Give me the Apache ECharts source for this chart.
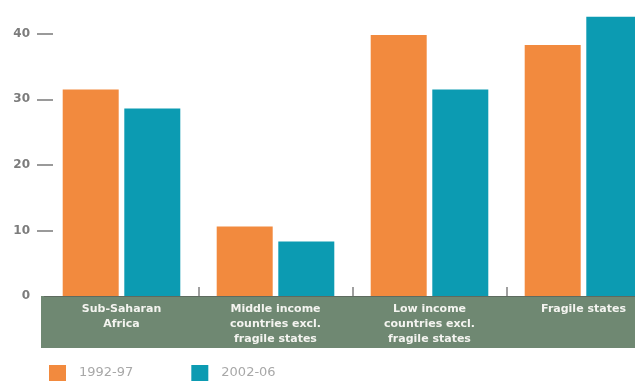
<!DOCTYPE html>
<html>
<head>
<meta charset="utf-8">
<script src="https://cdn.jsdelivr.net/npm/echarts@6/dist/echarts.min.js"></script>
<style>
html,body{margin:0;padding:0;background:#fff;}
#chart{width:635px;height:381px;}
</style>
</head>
<body>
<div id="chart"></div>
<script>
const categories = ['Sub-Saharan\nAfrica', 'Middle income\ncountries excl.\nfragile states', 'Low income\ncountries excl.\nfragile states', 'Fragile states'];
const series1992 = [31.5, 10.6, 39.8, 38.3];
const series2002 = [28.6, 8.3, 31.5, 42.6];
const seriesNames = ['1992-97', '2002-06'];
const yTickLabels = [0, 10, 20, 30, 40];

const chart = echarts.init(document.getElementById('chart'));
chart.setOption({
  animation: false,
  backgroundColor: '#ffffff',
  grid: { left: 44.5, width: 616, top: 1, height: 295, outerBoundsMode: 'none', containLabel: false },
  graphic: [{
    type: 'rect', z: 0,
    shape: { x: 41, y: 296, width: 600, height: 52 },
    style: { fill: '#6f8872' }
  }],
  legend: {
    left: 49, top: 365, padding: 0, itemWidth: 17, itemHeight: 16, itemGap: 58,
    icon: 'rect',
    textStyle: { color: '#a8a8a8', fontSize: 13, fontFamily: 'DejaVu Sans', padding: [0, 0, 0, 8] },
    data: seriesNames
  },
  xAxis: {
    type: 'category',
    data: categories,
    z: 5,
    axisLine: { show: true, lineStyle: { color: '#5e6b5f', width: 1 } },
    axisTick: { show: true, inside: true, length: 9, interval: function (i) { return i > 0; }, lineStyle: { color: '#a0a0a0', width: 2 } },
    axisLabel: {
      color: '#f4f4f0', fontSize: 11, fontWeight: 'bold', fontFamily: 'DejaVu Sans',
      lineHeight: 15, verticalAlign: 'top', margin: 6, interval: 0
    }
  },
  yAxis: {
    type: 'value', min: 0, max: 45, interval: 10,
    offset: -8.5,
    splitLine: { show: false },
    axisLine: { show: false },
    axisTick: { show: true, length: 16, customValues: [10, 20, 30, 40], lineStyle: { color: '#9a9a9a', width: 2 } },
    axisLabel: { customValues: yTickLabels, color: '#7c7c7c', fontSize: 12, fontWeight: 'bold', fontFamily: 'DejaVu Sans', margin: 23 }
  },
  series: [
    { name: seriesNames[0], type: 'bar', data: series1992, barWidth: 56, barGap: '10%', itemStyle: { color: '#f28a3e' } },
    { name: seriesNames[1], type: 'bar', data: series2002, barWidth: 56, barGap: '10%', itemStyle: { color: '#0c9bb2' } }
  ]
});
</script>
</body>
</html>
